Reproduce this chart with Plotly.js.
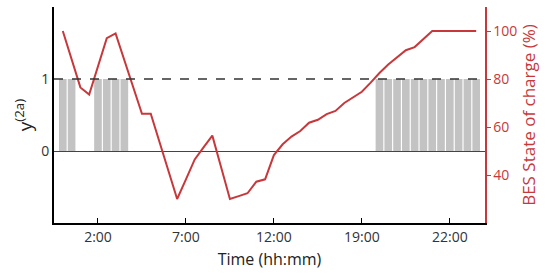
<!DOCTYPE html>
<html>
<head>
<meta charset="utf-8">
<script src="https://cdn.plot.ly/plotly-3.0.1.min.js"></script>
<style>
  body { margin: 0; background: #fff; }
  #chart { width: 550px; height: 279px; }
</style>
</head>
<body>
<div id="chart"></div>
<script>
// half-hour slots, 0..47
const slots = [];
for (let i = 0; i < 48; i++) slots.push(i);

// on/off state y(2a), drawn as bars where it is 1
const stateOn = [0, 1, 4, 5, 6, 7, 36, 37, 38, 39, 40, 41, 42, 43, 44, 45, 46, 47];
const stateVal = stateOn.map(() => 1);

// BES state of charge (%)
const soc = [100, 88, 76.5, 73.5, 85, 97, 99, 88, 76.7, 65.5,
             65.5, 53.7, 41.8, 30, 38.2, 46.5, 51.5, 56.4, 43.2, 30,
             31.2, 32.4, 37.2, 38.2, 48.3, 52.8, 56, 58.3, 61.8, 63,
             65.4, 66.7, 70, 72.3, 74.7, 78.5, 82.5, 86, 89, 92,
             93.3, 96.5, 100, 100, 100, 100, 100, 100];

const tickPos = [4, 14, 24, 34, 44];
const tickText = ['2:00', '7:00', '12:00', '19:00', '22:00'];

const red = '#c8383b';
const fontFam = '"Open Sans", sans-serif';

const bars = {
    x: stateOn,
    y: stateVal,
    type: 'bar',
    width: 0.87,
    marker: {color: '#c3c3c3'},
    hoverinfo: 'skip'
};

const socLine = {
    x: slots,
    y: soc,
    yaxis: 'y2',
    mode: 'lines',
    type: 'scatter',
    line: {color: red, width: 2}
};

const layout = {
    width: 550,
    height: 279,
    margin: {l: 54, r: 65, t: 7, b: 56},
    showlegend: false,
    plot_bgcolor: '#fff',
    paper_bgcolor: '#fff',
    font: {family: fontFam, size: 14, color: '#333'},
    xaxis: {
        range: [-1, 48],
        tickvals: tickPos,
        ticktext: tickText,
        ticks: 'inside',
        ticklen: 5,
        tickcolor: '#000',
        showgrid: false,
        zeroline: false,
        showline: true,
        linecolor: '#000',
        linewidth: 2,
        title: {text: 'Time (hh:mm)', font: {size: 16, color: '#222'}, standoff: 9}
    },
    yaxis: {
        range: [-1, 2],
        tickvals: [0, 1],
        ticks: '',
        showgrid: false,
        zeroline: true,
        zerolinecolor: '#444',
        zerolinewidth: 1,
        showline: true,
        linecolor: '#000',
        linewidth: 2,
        title: {text: 'y<sup>(2a)</sup>', font: {size: 19, color: '#222'}, standoff: 4}
    },
    yaxis2: {
        overlaying: 'y',
        side: 'right',
        range: [20, 110],
        tickvals: [40, 60, 80, 100],
        ticks: 'outside',
        ticklen: 4,
        tickcolor: red,
        tickfont: {color: red},
        showgrid: false,
        zeroline: false,
        showline: true,
        linecolor: red,
        linewidth: 1.5,
        title: {text: 'BES State of charge (%)', font: {size: 17, color: red}, standoff: 6}
    },
    shapes: [{
        type: 'line', xref: 'paper', yref: 'y',
        x0: 0, x1: 1, y0: 1, y1: 1,
        line: {color: '#333', width: 1.3, dash: 'dash'}
    }]
};

Plotly.newPlot('chart', [bars, socLine], layout, {displayModeBar: false, staticPlot: true});
</script>
</body>
</html>
